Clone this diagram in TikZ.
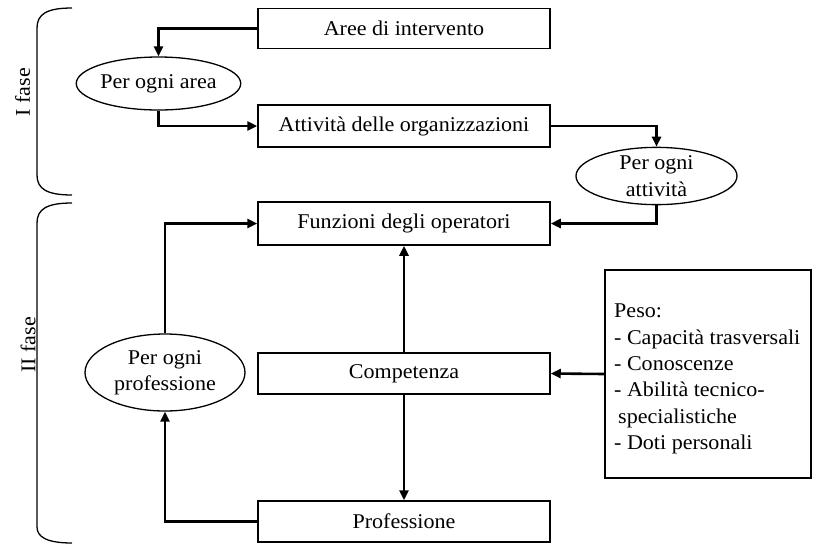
\documentclass[tikz,border=0pt]{standalone}
\usepackage{fontspec}
\setmainfont[FakeStretch=1.05]{Liberation Serif}
\usetikzlibrary{shapes.geometric,arrows.meta}
\begin{document}
\begin{tikzpicture}[x=1pt,y=-1pt,
  every node/.style={font=\fontsize{21}{26.4}\selectfont},
  box/.style={draw, line width=1.5pt, minimum width=292pt, inner sep=0pt},
  oval/.style={draw, ellipse, line width=1.3pt, inner sep=0pt, align=center},
  conn/.style={line width=2.6pt, -{Triangle[length=10pt,width=9pt]}},
  bracket/.style={line width=1.3pt}]
\useasboundingbox (0,0) rectangle (814,547);
\node[box, minimum height=40pt] (aree) at (404,28.5) {Aree di intervento};
\node[box, minimum height=42pt] (att) at (404,126) {Attività delle organizzazioni};
\node[box, minimum height=43pt] (funz) at (404,223.5) {Funzioni degli operatori};
\node[box, minimum height=41pt] (comp) at (404,373.5) {Competenza};
\node[box, minimum height=41pt] (prof) at (404,521.5) {Professione};
\node[oval, minimum width=160pt, minimum height=53pt] (e1) at (158.5,83.5) {Per ogni area};
\node[oval, minimum width=161pt, minimum height=52pt] (e2) at (656.5,176) {Per ogni\\attività};
\node[oval, minimum width=160pt, minimum height=77pt] (e3) at (165,372.5) {Per ogni\\professione};
\node[draw, line width=1.5pt, minimum width=206pt, minimum height=208pt, inner sep=0pt] (peso) at (708,374) {};
\node[anchor=west, inner sep=0pt, align=left] (pesotext) at (614,379)
  {Peso:\\- Capacità trasversali\\- Conoscenze\\- Abilità tecnico-\\\hspace*{4pt}specialistiche\\- Doti personali};
\draw[conn] (aree.west) -| (e1.north);
\draw[conn] (e1.south) |- (att.west);
\draw[conn] (att.east) -| (e2.north);
\draw[conn] (e2.south) |- (funz.east);
\draw[conn] (prof.west) -| (e3.south);
\draw[conn] (e3.north) |- (funz.west);
\draw[conn] (comp.north) -- (funz.south);
\draw[conn] (comp.south) -- (prof.north);
\draw[conn] (peso.west) -- (comp.east);
\draw[bracket] (72,8) .. controls (47,8) and (37,14) .. (37,28) -- (37,175) .. controls (37,189) and (47,195) .. (72,195);
\draw[bracket] (72,203) .. controls (47,203) and (37,209) .. (37,223) -- (37,527) .. controls (37,537) and (47,543) .. (72,543);
\node[rotate=90] (f1) at (22.5,92) {I fase};
\node[rotate=90] (f2) at (28,345) {II fase};
\end{tikzpicture}
\end{document}
